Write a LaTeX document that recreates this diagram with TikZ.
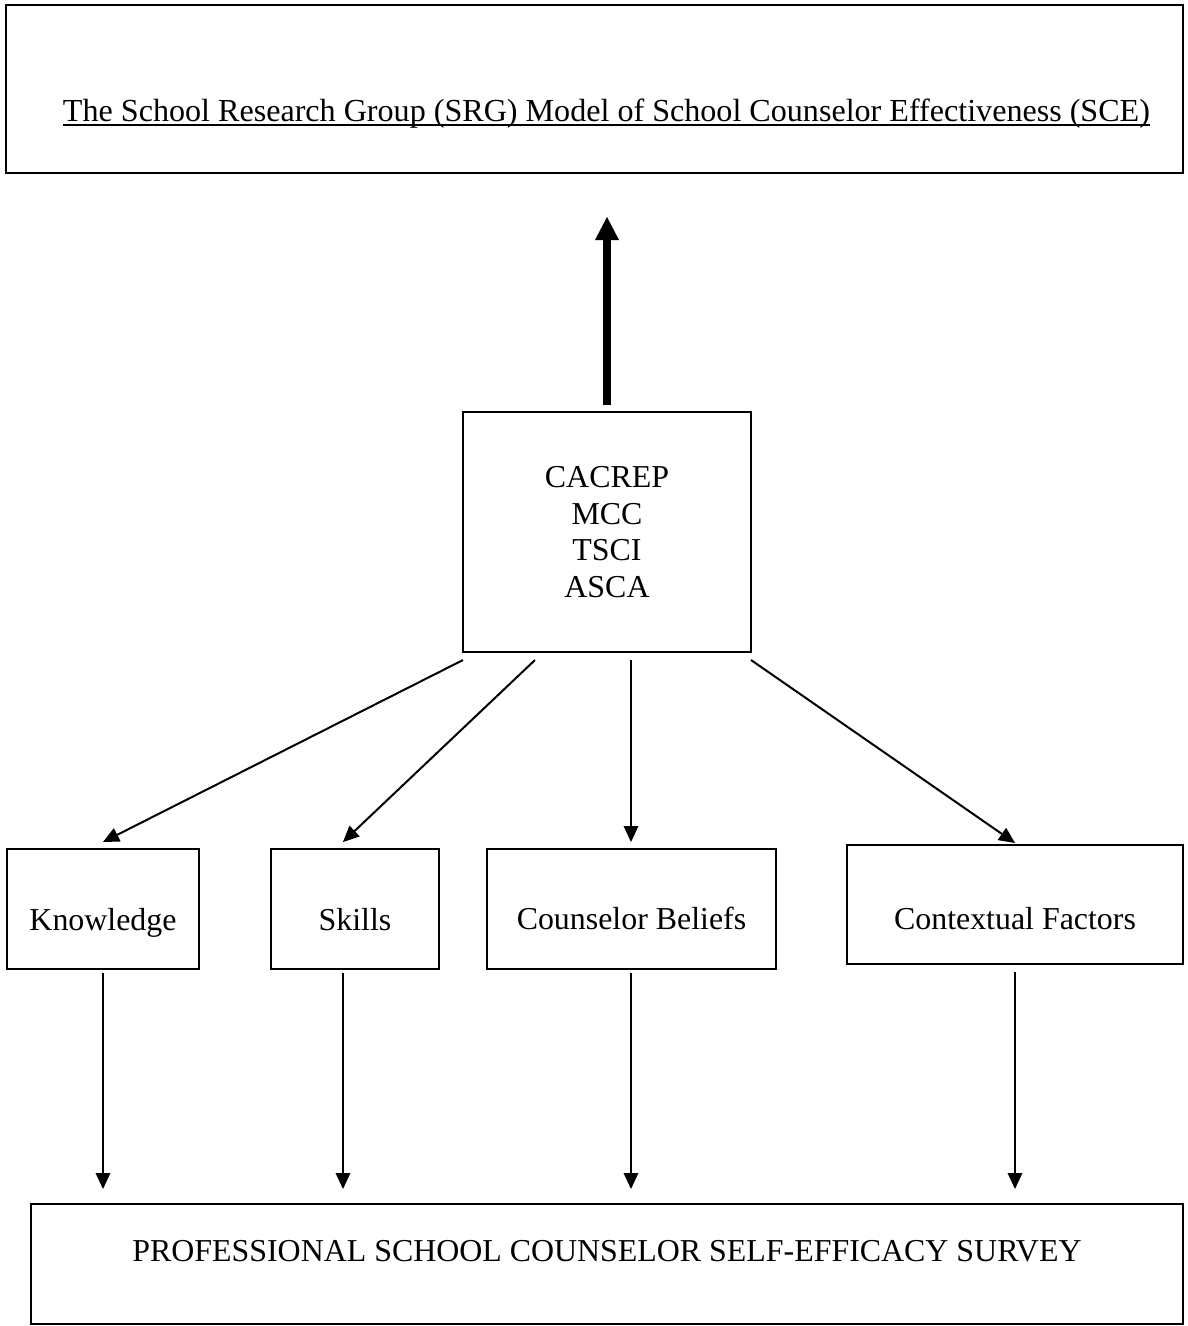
\documentclass[tikz,border=0pt]{standalone}
\usepackage{fontspec}
\setmainfont{Liberation Serif}
\usetikzlibrary{arrows.meta}
\begin{document}
\begin{tikzpicture}[x=1pt,y=-1pt,
  every node/.style={font=\fontsize{31.9}{36.7}\selectfont, inner sep=0pt, outer sep=0pt},
  boxnode/.style={draw, line width=2.6pt, rectangle, align=center},
  arr/.style={line width=2pt, -{Triangle[length=16pt,width=15pt,line width=0pt]}},
  bigarr/.style={line width=8pt, -{Triangle[length=23pt,width=24pt,line width=0pt]}}]
\useasboundingbox (0,0) rectangle (1188,1326);
% top box and title
\node[boxnode, minimum width=1177pt, minimum height=168pt] (topbox) at (594.5,89) {};
\node[anchor=base, font=\fontsize{32.1}{36.7}\selectfont] (title) at (606.5,121) {The School Research Group (SRG) Model of School Counselor Effectiveness (SCE)};
\draw[line width=2pt] ([yshift=-4pt]title.base west) -- ([yshift=-4pt]title.base east);
% central box
\node[boxnode, minimum width=288pt, minimum height=240pt] (cac) at (607,532) {CACREP\\MCC\\TSCI\\ASCA};
% middle row
\node[boxnode, minimum width=192pt, minimum height=120pt, text height=42pt, text depth=0pt] (k) at (103,909) {Knowledge};
\node[boxnode, minimum width=168pt, minimum height=120pt, text height=42pt, text depth=0pt] (s) at (355,909) {Skills};
\node[boxnode, minimum width=289pt, minimum height=120pt, text height=40pt, text depth=0pt] (b) at (631.5,909) {Counselor Beliefs};
\node[boxnode, minimum width=336pt, minimum height=119pt, text height=49pt, text depth=0pt] (c) at (1015,904.5) {Contextual Factors};
% bottom box
\node[boxnode, minimum width=1152pt, minimum height=120pt, text height=0pt, text depth=5pt] (bot) at (607,1264) {PROFESSIONAL SCHOOL COUNSELOR SELF-EFFICACY SURVEY};
% thick arrow
\draw[bigarr, shorten <=7pt, shorten >=44pt] (cac.north) -- (cac.north |- topbox.south);
% arrows from central box
\draw[arr] ([yshift=-8pt]cac.south west) -- ([yshift=7pt]k.north);
\draw[arr] ([xshift=72pt,yshift=-8pt]cac.south west) -- ([xshift=-12pt,yshift=7pt]s.north);
\draw[arr] ([xshift=24pt,yshift=-8pt]cac.south) -- ([xshift=-0.5pt,yshift=7pt]b.north);
\draw[arr] ([yshift=-8pt]cac.south east) -- ([yshift=2pt]c.north);
% arrows to bottom box
\draw[arr, shorten <=4pt, shorten >=15pt] (k.south) -- (k.south |- bot.north);
\draw[arr, shorten <=4pt, shorten >=15pt] ([xshift=-12pt]s.south) -- ([xshift=-12pt]s.south |- bot.north);
\draw[arr, shorten <=4pt, shorten >=15pt] ([xshift=-0.5pt]b.south) -- ([xshift=-0.5pt]b.south |- bot.north);
\draw[arr, shorten <=8pt, shorten >=15pt] (c.south) -- (c.south |- bot.north);
\end{tikzpicture}
\end{document}
